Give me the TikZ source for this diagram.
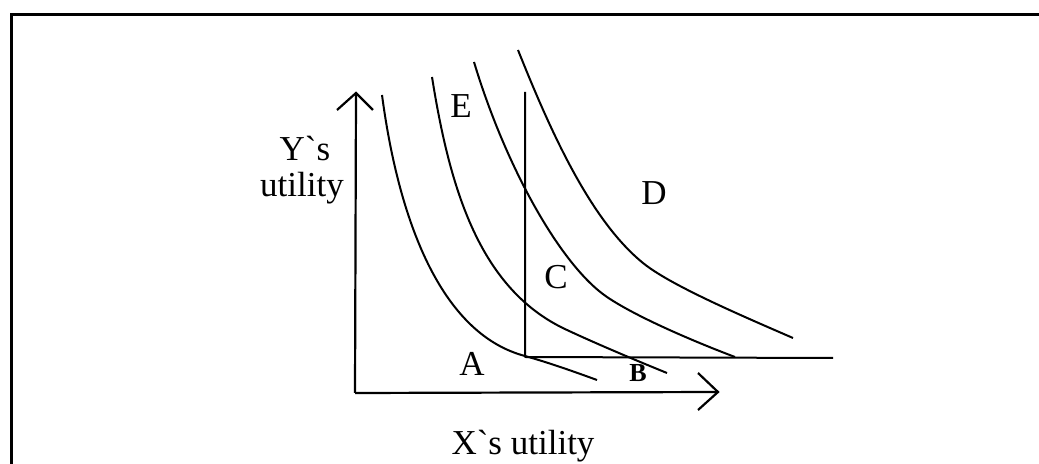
\documentclass[tikz,border=0pt]{standalone}
\usepackage{fontspec}
\setmainfont{Liberation Serif}
\begin{document}
\begin{tikzpicture}[x=0.5pt,y=-0.5pt,
  curve/.style={line width=1pt, line join=round},
  axis/.style={line width=1.1pt},
  lbl/.style={inner sep=0pt, font=\fontsize{17.5}{19}\selectfont},
  small/.style={inner sep=0pt, font=\fontsize{13}{14}\selectfont\bfseries}]
\useasboundingbox (0,0) rectangle (1039,464);
% frame
\draw[line width=1.5pt] (11,464) -- (11,15) -- (1039,15);
% axes
\coordinate (O) at (355,393);
\coordinate (Ytop) at (356,93);
\coordinate (Xend) at (718,392);
\draw[axis] (O) -- (Ytop);
\draw[axis] (337,110) -- (Ytop) -- (373,110);
\draw[axis] (O) -- (Xend);
\draw[axis] (698,373) -- (Xend) -- (698,410);
% vertical and horizontal lines from the corner
\coordinate (P) at (525,357);
\draw[curve] (525,92) -- (P) -- (833,358);
% indifference curves
\draw[curve] (382,95) .. controls (400,230) and (445,335) .. (525,356)
  .. controls (550,363) and (575,372) .. (597,380);
\draw[curve] (432,77) .. controls (450,190) and (480,290) .. (567,330)
  .. controls (597,344) and (635,360) .. (667,373);
\draw[curve] (474,62) .. controls (505,165) and (560,265) .. (607,297)
  .. controls (635,316) and (690,340) .. (735,357);
\draw[curve] (518,50) .. controls (550,130) and (590,220) .. (643,263)
  .. controls (670,285) and (740,315) .. (793,338);
% labels
\node[lbl] (ys) at (305,149) {Y\textasciigrave s};
\node[lbl] (yu) at (302,188) {utility};
\node[lbl] (xs) at (523,446) {X\textasciigrave s utility};
\node[lbl] (E) at (461,106) {E};
\node[lbl] (D) at (654,193) {D};
\node[lbl] (C) at (556,277) {C};
\node[lbl] (A) at (472,364) {A};
\node[small] (B) at (638,373) {B};
\end{tikzpicture}
\end{document}
